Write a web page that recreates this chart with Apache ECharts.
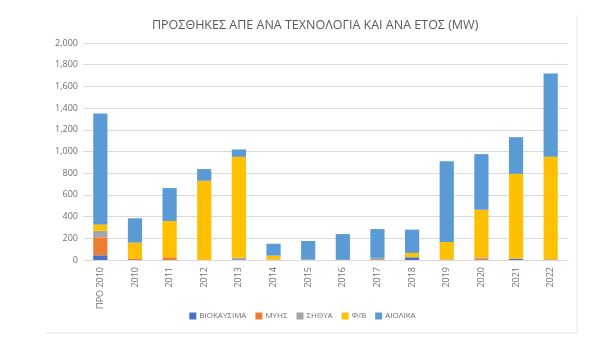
<!DOCTYPE html>
<html><head><meta charset="utf-8">
<script src="https://cdn.jsdelivr.net/npm/echarts@6/dist/echarts.min.js"></script>
<style>html,body{margin:0;padding:0;background:#fff}#c{width:605px;height:358px}</style>
</head><body><div id="c"></div>
<script>
const categories = ['ΠΡΟ 2010','2010','2011','2012','2013','2014','2015','2016','2017','2018','2019','2020','2021','2022'];
const bio   = [43, 0, 0, 0, 0, 0, 0, 0, 0, 25, 0, 0, 12, 0];
const hydro = [166, 10, 25, 5, 0, 0, 0, 0, 0, 0, 0, 15, 0, 0];
const chp   = [61, 0, 0, 0, 20, 5, 8, 2, 20, 0, 6, 10, 0, 8];
const pv    = [58, 150, 334, 725, 931, 35, 0, 0, 0, 40, 160, 438, 782, 943];
const wind  = [1022, 224, 304, 108, 68, 110, 167, 237, 265, 215, 745, 513, 338, 767];
const yTicks = [0, 200, 400, 600, 800, 1000, 1200, 1400, 1600, 1800, 2000];

const chart = echarts.init(document.getElementById('c'));
const font = 'Open Sans, Liberation Sans, sans-serif';
const names = ['ΒΙΟΚΑΥΣΙΜΑ','ΜΥΗΣ','ΣΗΘΥΑ','Φ/Β','ΑΙΟΛΙΚΑ'];
const colors = ['#4472C4','#ED7D31','#A5A5A5','#FFC000','#5B9BD5'];
const data = [bio, hydro, chp, pv, wind];
chart.setOption({
  animation: false,
  title: {text: 'ΠΡΟΣΘΗΚΕΣ ΑΠΕ ΑΝΑ ΤΕΧΝΟΛΟΓΙΑ ΚΑΙ ΑΝΑ ΕΤΟΣ (MW)', left: 147, top: 14,
    textStyle: {fontFamily: font, fontSize: 12.5, fontWeight: 'normal', color: '#595959'}},
  legend: {bottom: 33, left: 'center', itemWidth: 7, itemHeight: 7, itemGap: 9, icon: 'rect',
    textStyle: {fontFamily: font, fontSize: 8, color: '#6f6f6f', padding: [0, 0, 0, -2]}, data: names},
  graphic: [
    {type: 'line', shape: {x1: 45, y1: 333, x2: 577, y2: 333}, style: {stroke: '#e6e6e6', lineWidth: 1}},
    {type: 'line', shape: {x1: 577, y1: 15, x2: 577, y2: 333}, style: {stroke: '#e6e6e6', lineWidth: 1}}
  ],
  grid: {left: 83, right: 37, top: 43, bottom: 98, containLabel: false},
  xAxis: {type: 'category', data: categories,
    axisLine: {lineStyle: {color: '#d9d9d9'}}, axisTick: {show: false},
    axisLabel: {rotate: 90, fontFamily: font, fontSize: 9, color: '#6f6f6f', margin: 7, interval: 0}},
  yAxis: {type: 'value', min: 0, max: 2000, interval: 200,
    axisLine: {show: false}, axisTick: {show: false},
    splitLine: {lineStyle: {color: '#d9d9d9'}},
    axisLabel: {fontFamily: font, fontSize: 9, color: '#6f6f6f', margin: 5,
      formatter: v => yTicks.includes(v) ? v.toLocaleString('en-US') : ''}},
  series: names.map((n, i) => ({name: n, type: 'bar', stack: 'a', barWidth: '41%',
    itemStyle: {color: colors[i]}, data: data[i]}))
});
</script></body></html>
